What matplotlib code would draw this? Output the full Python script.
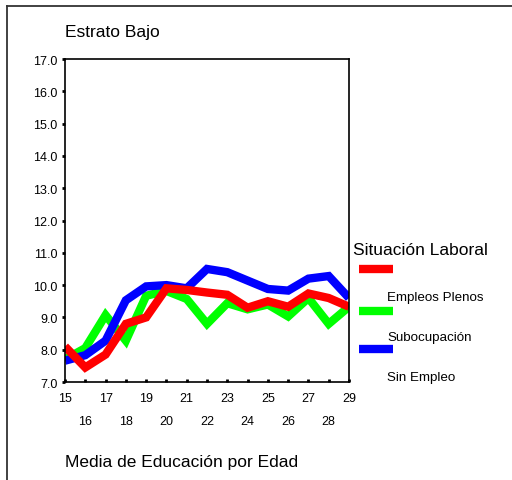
import matplotlib
matplotlib.use("Agg")
import matplotlib.pyplot as plt
from matplotlib.lines import Line2D

plt.rcParams['font.family'] = ['Liberation Sans', 'DejaVu Sans']

ages = list(range(15, 30))
empleos_plenos = [8.1, 7.45, 7.85, 8.8, 9.0, 9.9, 9.85, 9.77, 9.7, 9.3, 9.5, 9.33, 9.74, 9.6, 9.33]
subocupacion = [7.7, 8.05, 9.07, 8.28, 9.67, 9.82, 9.57, 8.8, 9.44, 9.25, 9.4, 9.03, 9.6, 8.8, 9.33]
sin_empleo = [7.66, 7.83, 8.28, 9.53, 9.96, 10.0, 9.9, 10.5, 10.4, 10.14, 9.88, 9.83, 10.2, 10.28, 9.6]
y_ticks = [7.0, 8.0, 9.0, 10.0, 11.0, 12.0, 13.0, 14.0, 15.0, 16.0, 17.0]

series = [("Empleos Plenos", empleos_plenos, "#ff0000"),
          ("Subocupación", subocupacion, "#00ff00"),
          ("Sin Empleo", sin_empleo, "#0000ff")]

W, H = 512, 481
fig = plt.figure(figsize=(W / 100, H / 100), dpi=100)
ax = fig.add_axes([65 / W, 1 - 383 / H, (349 - 65) / W, (383 - 60) / H])

lw = 6.0
for name, vals, col in [series[1], series[2], series[0]]:
    ax.plot(ages, vals, color=col, lw=lw, solid_joinstyle='miter', solid_capstyle='butt')

ax.set_xlim(15, 29)
ax.set_ylim(7, 17)
ax.set_yticks(y_ticks)
ax.set_yticklabels([f"{v:.1f}" for v in y_ticks], fontsize=9)
ax.set_xticks(ages)
ax.set_xticklabels([str(a) if a % 2 == 1 else "\n" + str(a) for a in ages], fontsize=9,
                   linespacing=2.2)
ax.tick_params(axis='y', length=2.5, width=2, direction='out', pad=3)
ax.tick_params(axis='x', length=2.5, width=2, direction='in', pad=7.5)
for s in ax.spines.values():
    s.set_linewidth(1.2)

fig.text(65 / W, 1 - 32 / H, "Estrato Bajo", fontsize=12.5, va='center', ha='left')
fig.text(65 / W, 1 - 462 / H, "Media de Educación por Edad", fontsize=12.5, va='center', ha='left')
fig.text(353 / W, 1 - 251 / H, "Situación Laboral", fontsize=12.5, va='center', ha='left')

leg_line_y = [270, 312, 350]
leg_text_y = [298, 338, 378]
for (name, vals, col), ly, ty in zip(series, leg_line_y, leg_text_y):
    fig.add_artist(Line2D([359 / W, 393 / W], [1 - ly / H, 1 - ly / H], color=col, lw=lw,
                          solid_capstyle='butt', transform=fig.transFigure))
    fig.text(387 / W, 1 - ty / H, name, fontsize=9.6, va='center', ha='left')

# outer border (top and left)
fig.add_artist(Line2D([7 / W, 1.0], [1 - 7 / H, 1 - 7 / H], color='#333333', lw=1.3,
                      transform=fig.transFigure))
fig.add_artist(Line2D([7 / W, 7 / W], [0, 1 - 7 / H], color='#333333', lw=1.3,
                      transform=fig.transFigure))

fig.savefig("out.png", dpi=100)
